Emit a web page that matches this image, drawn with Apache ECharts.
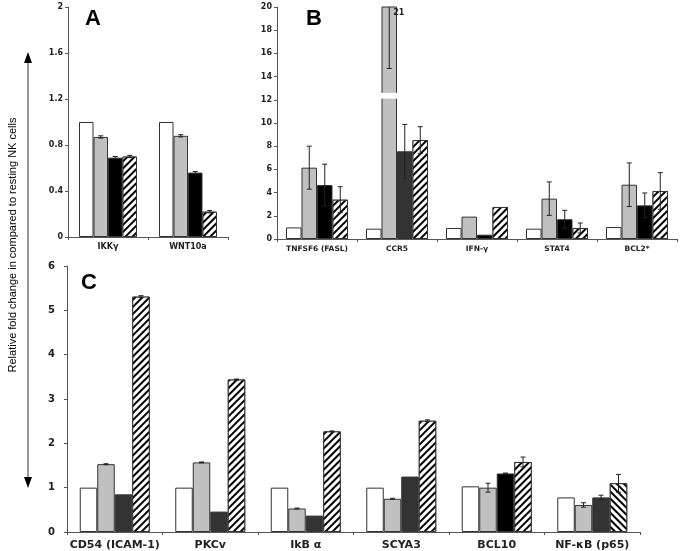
<!DOCTYPE html>
<html><head><meta charset="utf-8">
<script src="https://cdn.jsdelivr.net/npm/echarts@6/dist/echarts.min.js"></script>
<style>html,body{margin:0;padding:0;background:#fff}#c{width:685px;height:551px}</style>
</head><body><div id="c"></div>
<script>
// ---------- DATA ----------
const catsA = ['IKKγ', 'WNT10a'];
const a1 = [1.0, 1.0];
const a2 = [0.87, 0.88];
const a3 = [0.69, 0.56];
const a4 = [0.70, 0.22];
const errA2 = [0.01, 0.01];
const errA3 = [0.01, 0.01];
const errA4 = [0.01, 0.01];
const ticksA = [0, 0.4, 0.8, 1.2, 1.6, 2];

const catsB = ['TNFSF6 (FASL)', 'CCR5', 'IFN-γ', 'STAT4', 'BCL2*'];
const b1 = [1.0, 0.89, 0.95, 0.89, 1.03];
const b2 = [6.15, 21, 1.93, 3.48, 4.68];
const b3 = [4.65, 7.56, 0.37, 1.70, 2.90];
const b4 = [3.39, 8.53, 2.76, 0.95, 4.14];
const errB2 = [1.85, 6.3, null, 1.44, 1.88];
const errB3 = [1.8, 2.32, null, 0.77, 1.07];
const errB4 = [1.12, 1.15, null, 0.43, 1.58];
const colorB3 = ['#000', '#333', '#000', '#000', '#000'];

const catsC = ['CD54 (ICAM-1)', 'PKCv', 'IkB α', 'SCYA3', 'BCL10', 'NF-κB (p65)'];
const c1 = [1.0, 1.0, 1.0, 1.0, 1.03, 0.78];
const c2 = [1.53, 1.57, 0.53, 0.75, 1.0, 0.61];
const c3 = [0.85, 0.46, 0.37, 1.25, 1.32, 0.78];
const c4 = [5.31, 3.44, 2.27, 2.51, 1.58, 1.10];
const errC2 = [0.01, 0.01, 0.01, 0.01, 0.10, 0.05];
const errC3 = [null, null, null, null, 0.01, 0.05];
const errC4 = [0.02, 0.01, 0.01, 0.02, 0.11, 0.20];
const colorC3 = ['#333', '#333', '#333', '#333', '#000', '#333'];

const yLabel = 'Relative fold change in compared to resting NK cells';

// ---------- STYLE ----------
const GRAY = '#c0c0c0';
const EDGE = '#333';
const tickFont = { fontFamily: 'DejaVu Sans', fontWeight: 'bold', fontSize: 8, color: '#222' };
function hatch(rot) {
  return { symbol: 'rect', symbolSize: 1, color: '#000', backgroundColor: '#fff',
           dashArrayX: [1, 0], dashArrayY: [2, 2.5], rotation: rot };
}
const grids = [
  { left: 68, top: 7, width: 160, height: 230 },
  { left: 277, top: 7, width: 400, height: 232 },
  { left: 67, top: 266, width: 573, height: 268 }
];
const bw = [14.5, 15.5, 17.5];

function xAxis(idx, cats, fs) {
  return {
    type: 'category', gridIndex: idx, data: cats,
    axisLine: { lineStyle: { color: '#555', width: 1 } },
    axisTick: { show: true, length: 3, lineStyle: { color: '#555' } },
    axisLabel: Object.assign({}, tickFont, { fontSize: fs, interval: 0, margin: idx === 2 ? 8 : 6 })
  };
}
function yAxis(idx, max, interval) {
  return {
    type: 'value', gridIndex: idx, min: 0, max: max, interval: interval,
    splitLine: { show: false },
    axisLine: { show: true, lineStyle: { color: '#555', width: 1 } },
    axisTick: { show: true, length: 3, inside: false, lineStyle: { color: '#555' } },
    axisLabel: Object.assign({}, tickFont, idx === 2 ? { fontSize: 10, margin: 12 } : { margin: 5 })
  };
}
function bars(g, d, color, decalFn, name) {
  return {
    type: 'bar', name: name, xAxisIndex: g, yAxisIndex: g, barWidth: bw[g], barGap: '0%',
    clip: true,
    data: d.map((v, i) => ({
      value: v,
      itemStyle: {
        color: Array.isArray(color) ? color[i] : color,
        borderColor: EDGE, borderWidth: 1,
        decal: decalFn ? decalFn(i) : undefined
      }
    }))
  };
}
function errSeries(g, sets) {
  const data = [];
  sets.forEach(([pos, vals, errs]) => {
    vals.forEach((v, i) => { if (errs[i] != null) data.push([i, v, errs[i], pos]); });
  });
  return {
    type: 'custom', xAxisIndex: g, yAxisIndex: g, clip: true, z: 5,
    data: data,
    renderItem: function (params, api) {
      const i = api.value(0), v = api.value(1), e = api.value(2), pos = api.value(3);
      const c = api.coord([i, v]);
      const x = c[0] + (pos - 1.5) * bw[g];
      const top = api.coord([i, v + e])[1];
      const bot = api.coord([i, Math.max(0, v - e)])[1];
      const cap = 2.5;
      const st = { stroke: '#222', lineWidth: 1 };
      return { type: 'group', children: [
        { type: 'line', shape: { x1: x, y1: top, x2: x, y2: bot }, style: st },
        { type: 'line', shape: { x1: x - cap, y1: top, x2: x + cap, y2: top }, style: st },
        { type: 'line', shape: { x1: x - cap, y1: bot, x2: x + cap, y2: bot }, style: st }
      ]};
    }
  };
}
const breakB = {
  type: 'custom', xAxisIndex: 1, yAxisIndex: 1, z: 6, clip: false,
  data: [[1, 12.1, 12.6, b2[1]]],
  renderItem: function (params, api) {
    const i = api.value(0);
    const lo = api.coord([i, api.value(1)]);
    const hi = api.coord([i, api.value(2)]);
    const x = lo[0] + (1 - 1.5) * bw[1];
    const top = api.coord([i, 20]);
    return { type: 'group', children: [
      { type: 'rect', shape: { x: x - bw[1] / 2 - 1, y: hi[1], width: bw[1] + 2, height: lo[1] - hi[1] },
        style: { fill: '#fff' } },
      { type: 'text', x: x + 4, y: top[1] + 2,
        style: { text: String(api.value(3)), fill: '#222', font: 'bold 8px "DejaVu Sans"', textVerticalAlign: 'top' } }
    ]};
  }
};

const chart = echarts.init(document.getElementById('c'), null, { renderer: 'canvas' });
chart.setOption({
  animation: false,
  backgroundColor: '#fff',
  grid: grids.map(g => Object.assign({ containLabel: false }, g)),
  xAxis: [xAxis(0, catsA, 8), xAxis(1, catsB, 7.5), xAxis(2, catsC, 11)],
  yAxis: [yAxis(0, ticksA[ticksA.length - 1], 0.4), yAxis(1, 20, 2), yAxis(2, 6, 1)],
  series: [
    bars(0, a1, '#fff'), bars(0, a2, GRAY), bars(0, a3, '#000'), bars(0, a4, '#fff', () => hatch(-Math.PI / 4)),
    errSeries(0, [[1, a2, errA2], [2, a3, errA3], [3, a4, errA4]]),
    bars(1, b1, '#fff'), bars(1, b2, GRAY), bars(1, b3, colorB3), bars(1, b4, '#fff', () => hatch(-Math.PI / 4)),
    errSeries(1, [[1, b2, errB2], [2, b3, errB3], [3, b4, errB4]]),
    breakB,
    bars(2, c1, '#fff'), bars(2, c2, GRAY), bars(2, c3, colorC3),
    bars(2, c4, '#fff', i => hatch(i === 5 ? Math.PI / 4 : -Math.PI / 4)),
    errSeries(2, [[1, c2, errC2], [2, c3, errC3], [3, c4, errC4]])
  ],
  graphic: [
    { type: 'text', left: 85, top: 8, style: { text: 'A', font: 'bold 22px "Liberation Sans"', fill: '#000' } },
    { type: 'text', left: 306, top: 8, style: { text: 'B', font: 'bold 22px "Liberation Sans"', fill: '#000' } },
    { type: 'text', left: 81, top: 272, style: { text: 'C', font: 'bold 22px "Liberation Sans"', fill: '#000' } },
    { type: 'text', x: 13, y: 245, rotation: Math.PI / 2,
      style: { text: yLabel, font: '11px "Liberation Sans"', fill: '#000', textAlign: 'center', textVerticalAlign: 'middle' } },
    { type: 'line', shape: { x1: 28, y1: 62, x2: 28, y2: 478 }, style: { stroke: '#333', lineWidth: 1 } },
    { type: 'polygon', shape: { points: [[28, 52], [24, 63], [32, 63]] }, style: { fill: '#000' } },
    { type: 'polygon', shape: { points: [[28, 488], [24, 477], [32, 477]] }, style: { fill: '#000' } }
  ]
});
</script></body></html>
